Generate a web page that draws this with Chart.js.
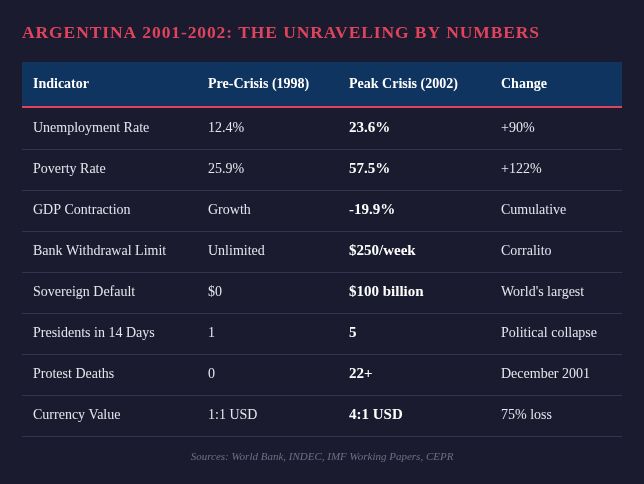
<!DOCTYPE html><html><head><meta charset="utf-8">
<script src="https://cdn.jsdelivr.net/npm/chart.js@4"></script>
<style>html,body{margin:0;background:#1b1b2f;}canvas{display:block}</style></head><body>
<canvas id="c" width="644" height="484"></canvas>
<script>
const columns = ["Indicator","Pre-Crisis (1998)","Peak Crisis (2002)","Change"];
const indicators = ["Unemployment Rate","Poverty Rate","GDP Contraction","Bank Withdrawal Limit","Sovereign Default","Presidents in 14 Days","Protest Deaths","Currency Value"];
const preCrisis = ["12.4%","25.9%","Growth","Unlimited","$0","1","0","1:1 USD"];
const peakCrisis = ["23.6%","57.5%","-19.9%","$250/week","$100 billion","5","22+","4:1 USD"];
const change = ["+90%","+122%","Cumulative","Corralito","World's largest","Political collapse","December 2001","75% loss"];
const title = "ARGENTINA 2001-2002: THE UNRAVELING BY NUMBERS";
const source = "Sources: World Bank, INDEC, IMF Working Papers, CEPR";
const FONT = "'Liberation Serif', serif";
const tablePlugin = {
  id:'table',
  afterDraw(chart){
    const ctx = chart.ctx, a = chart.chartArea, y = chart.scales.y;
    const colPix = [a.left+11, a.left+186, a.left+327, a.left+479];
    ctx.save();
    ctx.textBaseline = 'middle';
    ctx.fillStyle = '#e0435c';
    ctx.font = `bold 17.5px ${FONT}`;
    ctx.letterSpacing = '0.9px';
    ctx.fillText(title, a.left, 33);
    ctx.letterSpacing = '0px';
    ctx.fillStyle = '#0f3460';
    ctx.fillRect(a.left, 62, a.right-a.left, 45);
    ctx.fillStyle = '#e0435c';
    ctx.fillRect(a.left, 106, a.right-a.left, 2);
    ctx.fillStyle = '#ffffff';
    ctx.font = `bold 14px ${FONT}`;
    columns.forEach((c,i)=>ctx.fillText(c, colPix[i], 84));
    const band = y.getPixelForValue(1)-y.getPixelForValue(0);
    indicators.forEach((lab,i)=>{
      const cy = y.getPixelForValue(i);
      ctx.fillStyle = '#33344f';
      ctx.fillRect(a.left, Math.round(cy+band/2), a.right-a.left, 1);
      ctx.font = `14px ${FONT}`;
      ctx.fillStyle = '#e6e6ee';
      ctx.fillText(lab, colPix[0], cy);
      ctx.fillText(preCrisis[i], colPix[1], cy);
      ctx.fillText(change[i], colPix[3], cy);
      ctx.font = `bold 15px ${FONT}`;
      ctx.fillStyle = '#ffffff';
      ctx.fillText(peakCrisis[i], colPix[2], cy);
    });
    ctx.font = `italic 11px ${FONT}`;
    ctx.fillStyle = '#6f6f85';
    ctx.textAlign = 'center';
    ctx.fillText(source, (a.left+a.right)/2, 457);
    ctx.restore();
  }
};
new Chart(document.getElementById('c'),{
  type:'scatter',
  data:{datasets:[{data:indicators.map((l,i)=>({x:0,y:l})),pointRadius:0}]},
  options:{
    responsive:false,animation:false,
    layout:{padding:{left:22,right:22,top:108,bottom:48}},
    plugins:{legend:{display:false},tooltip:{enabled:false}},
    scales:{
      x:{type:'linear',min:0,max:3,display:false},
      y:{type:'category',labels:indicators,offset:true,display:false}
    }
  },
  plugins:[tablePlugin]
});
</script></body></html>
